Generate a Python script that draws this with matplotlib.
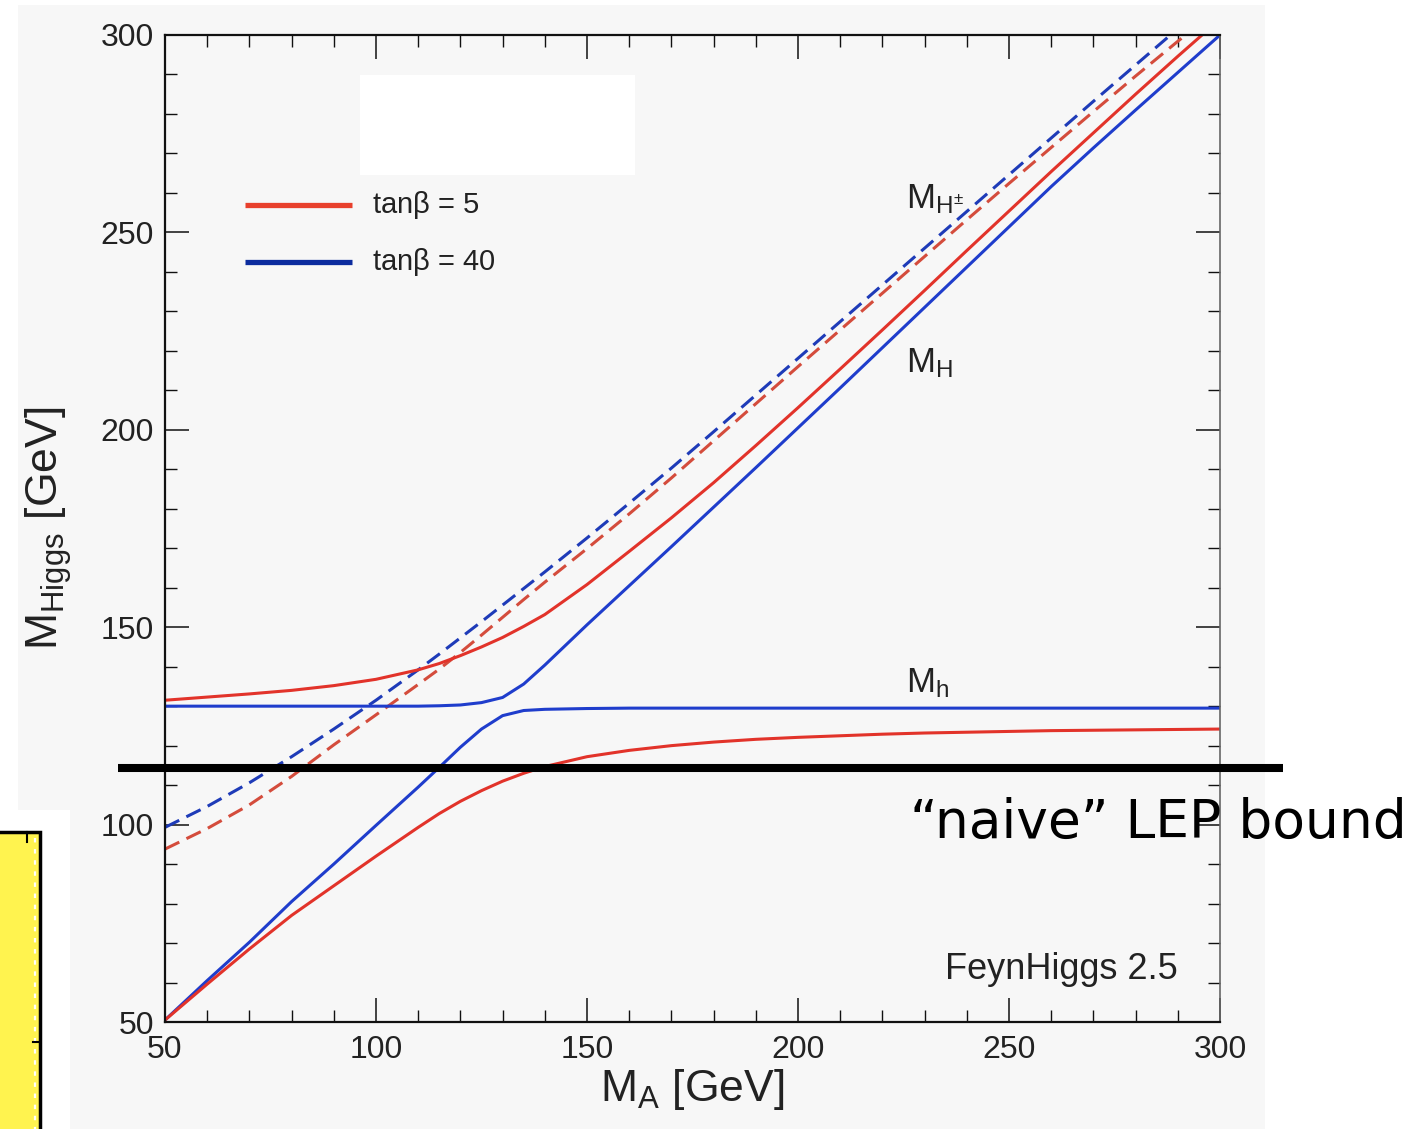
import matplotlib
matplotlib.use("Agg")
import matplotlib.pyplot as plt
from matplotlib.patches import Rectangle
from matplotlib.lines import Line2D
from matplotlib.ticker import MultipleLocator
from matplotlib.transforms import blended_transform_factory

plt.rcParams['font.family'] = ['Liberation Sans', 'DejaVu Sans']
plt.rcParams['mathtext.fontset'] = 'custom'
plt.rcParams['mathtext.rm'] = 'Liberation Sans'
plt.rcParams['mathtext.it'] = 'Liberation Sans'
plt.rcParams['mathtext.bf'] = 'Liberation Sans:bold'

# ---- data: MSSM Higgs masses vs M_A (GeV) ----
m_a = [50, 60, 70, 80, 90, 100, 110, 115, 120, 125, 130, 135, 140,
       150, 160, 170, 180, 190, 200, 210, 220, 230, 240, 250, 260,
       270, 280, 290, 300]

# tan(beta) = 5
mh_tb5 = [50.5, 59.6, 68.5, 77.0, 84.5, 92.0, 99.3, 102.8, 105.9, 108.6,
          111.0, 113.0, 114.7, 117.2, 118.8, 120.0, 120.9, 121.6, 122.1,
          122.5, 122.9, 123.2, 123.4, 123.6, 123.8, 123.9, 124.0, 124.1, 124.2]
mH_tb5 = [131.5, 132.3, 133.1, 134.0, 135.2, 136.8, 139.2, 140.8, 142.8,
          145.0, 147.4, 150.2, 153.2, 160.8, 169.2, 177.7, 186.6, 196.0,
          205.6, 215.4, 225.3, 235.3, 245.4, 255.4, 265.4, 275.2, 285.0,
          294.6, 304.0]
mHp_tb5 = [93.8, 99.0, 105.0, 112.2, 120.2, 127.8, 135.5, 139.4, 143.6,
           148.0, 152.5, 157.0, 161.4, 169.9, 178.7, 187.8, 197.2, 206.6,
           216.0, 225.3, 234.6, 243.9, 253.2, 262.4, 271.5, 280.6, 289.6,
           298.4, 307.0]

# tan(beta) = 40
mh_tb40 = [50.5, 60.5, 70.2, 80.5, 90.0, 99.8, 109.5, 114.5, 119.6, 124.2,
           127.6, 128.9, 129.2, 129.4, 129.5, 129.5, 129.5, 129.5, 129.5,
           129.5, 129.5, 129.5, 129.5, 129.5, 129.5, 129.5, 129.5, 129.5, 129.5]
mH_tb40 = [130.0, 130.0, 130.0, 130.0, 130.0, 130.0, 130.0, 130.1, 130.3,
           130.9, 132.2, 135.6, 140.4, 150.6, 160.5, 170.4, 180.4, 190.4,
           200.5, 210.6, 220.8, 231.0, 241.2, 251.4, 261.6, 271.4, 281.0,
           290.5, 300.0]
mHp_tb40 = [99.3, 104.6, 110.6, 117.2, 124.2, 131.5, 139.2, 143.2, 147.3,
            151.4, 155.6, 159.8, 164.0, 172.6, 181.4, 190.3, 199.5, 208.8,
            218.1, 227.4, 236.7, 246.0, 255.3, 264.6, 273.9, 283.2, 292.4,
            301.6, 310.8]

lep_bound = 114.4
legend_labels = [r'tan$\beta$ = 5', r'tan$\beta$ = 40']

W, H = 1428, 1129
fig = plt.figure(figsize=(W / 100, H / 100), dpi=100)
fig.patch.set_facecolor('white')


def px_rect(x0, y0, x1, y1, **kw):
    r = Rectangle((x0 / W, 1 - y1 / H), (x1 - x0) / W, (y1 - y0) / H,
                  transform=fig.transFigure, **kw)
    fig.patches.append(r)
    return r


# panel background and pasted fragments
px_rect(18, 5, 1265, 1129, facecolor='#f7f7f7', edgecolor='none', zorder=0)
px_rect(0, 810, 70, 1129, facecolor='white', edgecolor='none', zorder=1)
px_rect(-5, 832, 40, 1140, facecolor='#fff34f', edgecolor='black',
        linewidth=2.5, zorder=2)
fig.add_artist(Line2D([35 / W, 35 / W], [1 - 838 / H, 0], transform=fig.transFigure,
                      color='white', lw=1.6, linestyle=(0, (2, 3)), zorder=3))
fig.add_artist(Line2D([27 / W, 27 / W], [1 - 832 / H, 1 - 842 / H],
                      transform=fig.transFigure, color='black', lw=1.5, zorder=3))
fig.add_artist(Line2D([33 / W, 40 / W], [1 - 1042 / H, 1 - 1042 / H],
                      transform=fig.transFigure, color='black', lw=1.5, zorder=3))

ax = fig.add_axes([165 / W, 1 - 1022 / H, (1220 - 165) / W, (1022 - 35) / H])
ax.set_facecolor('none')
ax.set_zorder(4)

red = '#e2332a'
blue = '#1f3dcc'
red_d = '#d44c3c'
blue_d = '#1e3bb8'
lw = 2.2
dash = (0, (5.2, 2.6))

ax.plot(m_a, mHp_tb40, color=blue_d, lw=lw, linestyle=dash)
ax.plot(m_a, mHp_tb5, color=red_d, lw=lw, linestyle=dash)
ax.plot(m_a, mH_tb40, color=blue, lw=lw)
ax.plot(m_a, mh_tb40, color=blue, lw=lw)
ax.plot(m_a, mh_tb5, color=red, lw=lw)
ax.plot(m_a, mH_tb5, color=red, lw=lw)

ax.set_xlim(50, 300)
ax.set_ylim(50, 300)
ax.xaxis.set_major_locator(MultipleLocator(50))
ax.xaxis.set_minor_locator(MultipleLocator(10))
ax.yaxis.set_major_locator(MultipleLocator(50))
ax.yaxis.set_minor_locator(MultipleLocator(10))
ax.tick_params(which='both', direction='in', top=True, right=True,
               colors='#111111', labelcolor='#222222')
ax.tick_params(which='major', length=17, width=1.1, labelsize=23)
ax.tick_params(which='minor', length=8.5, width=1.0)
ax.tick_params(axis='x', which='major', pad=9)
ax.tick_params(axis='y', which='major', pad=8)
for s in ax.spines.values():
    s.set_linewidth(1.6)
    s.set_color('#111111')
ax.spines['right'].set_color('#666666')
ax.spines['right'].set_linewidth(1.2)

ax.set_xlabel(r'M$_\mathrm{A}$ [GeV]', fontsize=32, color='#222222', labelpad=2)
ax.set_ylabel(r'M$_\mathrm{Higgs}$ [GeV]', fontsize=32, color='#222222', labelpad=19)

# blank label box
px_rect(360, 75, 635, 175, facecolor='white', edgecolor='none', zorder=3)

# legend drawn as short sample lines with labels
leg_tr = blended_transform_factory(fig.transFigure, ax.transData)
for label, col, yv in [(legend_labels[0], '#e8402c', 256.9),
                       (legend_labels[1], '#0c2c9e', 242.6)]:
    ax.add_line(Line2D([245 / W, 352 / W], [yv, yv], transform=leg_tr,
                       color=col, lw=3.8, solid_capstyle='butt'))
    ax.text(372 / W, yv, label, transform=leg_tr, fontsize=21,
            color='#222222', ha='left', va='center')

ax.text(225.5, 256.2, r'M$_{\mathrm{H}^{\pm}}$', fontsize=25, color='#222222',
        ha='left', va='baseline')
ax.text(225.5, 214.6, r'M$_\mathrm{H}$', fontsize=25, color='#222222',
        ha='left', va='baseline')
ax.text(225.5, 133.6, r'M$_\mathrm{h}$', fontsize=25, color='#222222',
        ha='left', va='baseline')
ax.text(234.8, 61.0, 'FeynHiggs 2.5', fontsize=26, color='#222222',
        ha='left', va='baseline')

# LEP bound line across the panel
fig.add_artist(Line2D([118 / W, 1283 / W], [lep_bound, lep_bound],
                      transform=leg_tr, color='black', lw=5.8,
                      solid_capstyle='butt', zorder=6))
fig.text(910 / W, 1 - 838 / H, '\u201cnaive\u201d LEP bound', fontsize=38.5,
         family=['DejaVu Sans'], color='black', ha='left', va='baseline', zorder=6)

fig.savefig('out.png', dpi=100, facecolor=fig.get_facecolor())
